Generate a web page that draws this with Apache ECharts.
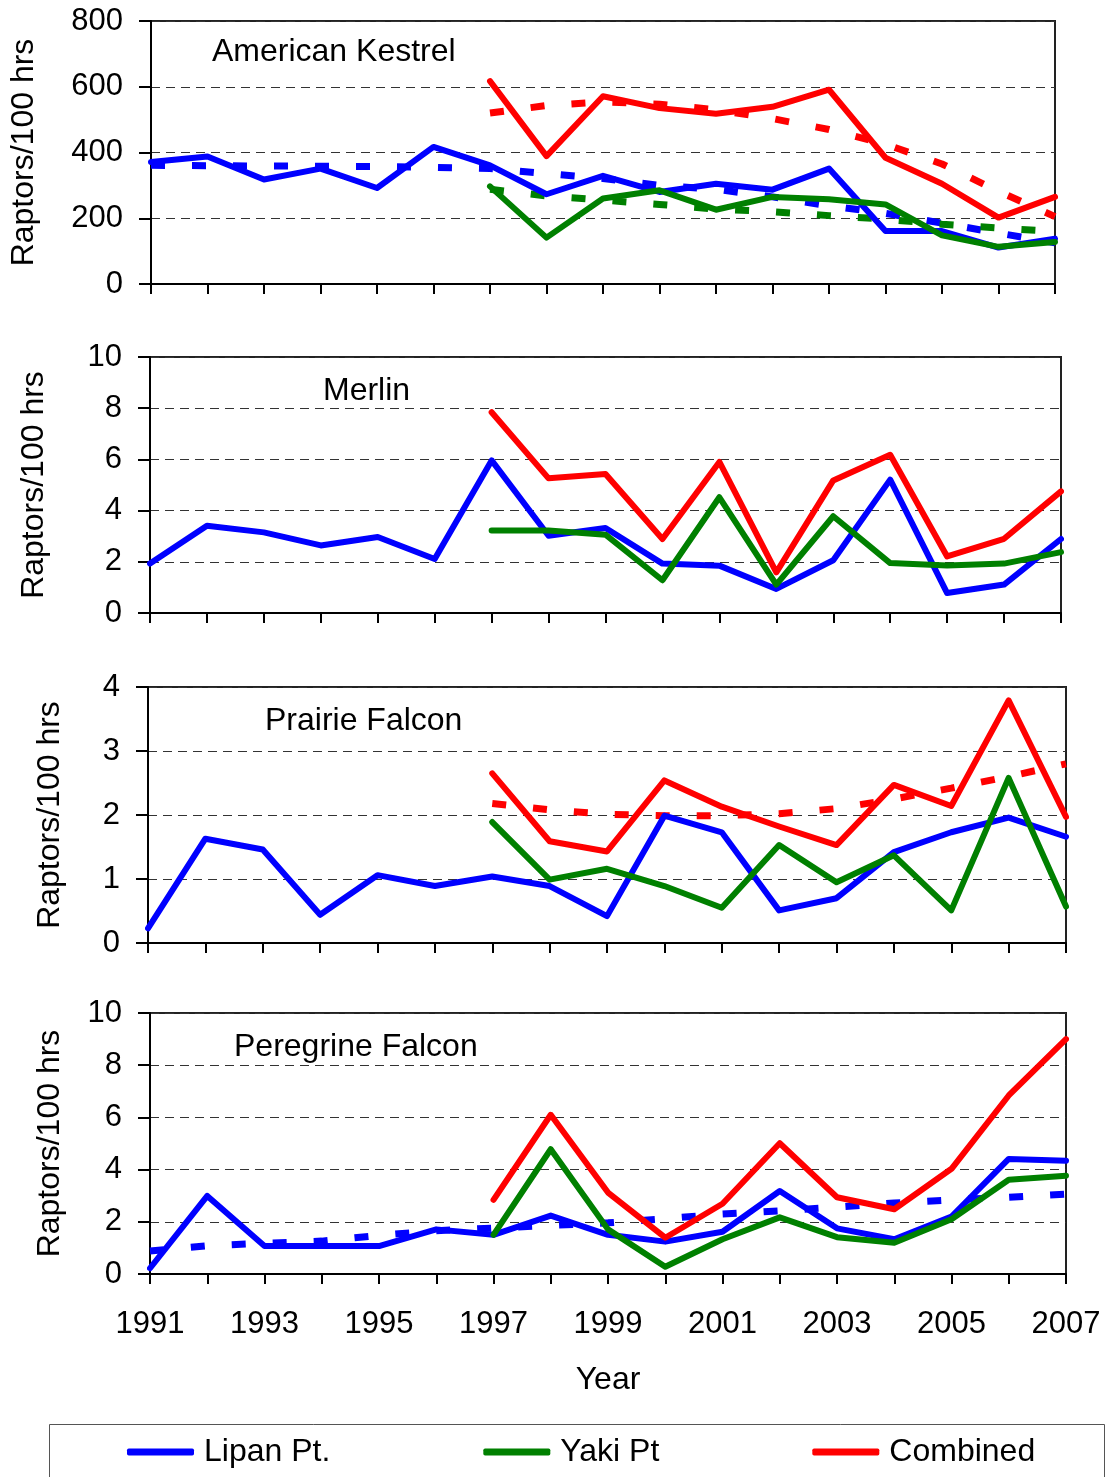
<!DOCTYPE html>
<html>
<head>
<meta charset="utf-8">
<script src="https://cdn.jsdelivr.net/npm/echarts@6/dist/echarts.min.js"></script>
<style>
html,body{margin:0;padding:0;background:#fff;}
#chart{width:1108px;height:1477px;}
</style>
</head>
<body>
<div id="chart"></div>
<script>
// ---------- DATA ----------
const years = ['1991','1992','1993','1994','1995','1996','1997','1998','1999','2000','2001','2002','2003','2004','2005','2006','2007'];
const panelTitles = ['American Kestrel','Merlin','Prairie Falcon','Peregrine Falcon'];
const legendNames = ['Lipan Pt.','Yaki Pt','Combined'];
const yAxisTitle = 'Raptors/100 hrs';
const xAxisTitle = 'Year';

// American Kestrel
const kestrelLipan    = [371,388,318,351,292,417,361,273,329,280,305,287,351,161,161,111,138];
const kestrelYaki     = [null,null,null,null,null,null,297,141,260,285,226,265,258,242,148,113,128];
const kestrelCombined = [null,null,null,null,null,null,617,389,571,535,518,539,591,384,305,202,265];
const kestrelLipanTrend    = [361,360,359,358,357,355,351,336,321,300,288,265,238,215,185,155,125];
const kestrelYakiTrend     = [null,null,null,null,null,null,288,268,255,242,228,220,208,197,182,170,160];
const kestrelCombinedTrend = [null,null,null,null,null,null,520,543,554,547,530,503,470,425,365,282,205];

// Merlin
const merlinLipan    = [1.93,3.41,3.15,2.64,2.97,2.11,5.96,3.02,3.32,1.93,1.85,0.94,2.06,5.21,0.78,1.11,2.89];
const merlinYaki     = [null,null,null,null,null,null,3.22,3.22,3.06,1.28,4.52,1.11,3.78,1.95,1.86,1.93,2.38];
const merlinCombined = [null,null,null,null,null,null,7.84,5.26,5.43,2.89,5.90,1.59,5.18,6.18,2.21,2.90,4.75];

// Prairie Falcon
const prairieLipan    = [0.23,1.63,1.46,0.44,1.06,0.89,1.04,0.89,0.42,1.99,1.73,0.51,0.70,1.42,1.73,1.96,1.66];
const prairieYaki     = [null,null,null,null,null,null,1.89,0.99,1.16,0.89,0.55,1.53,0.95,1.37,0.51,2.58,0.57];
const prairieCombined = [null,null,null,null,null,null,2.65,1.59,1.43,2.54,2.13,1.82,1.53,2.47,2.14,3.79,1.97];
const prairieCombinedTrend = [null,null,null,null,null,null,2.18,2.08,2.01,1.99,1.99,2.02,2.10,2.25,2.42,2.60,2.80];

// Peregrine Falcon
const peregrineLipan    = [0.22,2.99,1.07,1.07,1.07,1.71,1.50,2.24,1.50,1.24,1.62,3.18,1.75,1.33,2.20,4.41,4.34];
const peregrineYaki     = [null,null,null,null,null,null,1.50,4.78,1.71,0.28,1.33,2.17,1.41,1.20,2.10,3.61,3.76];
const peregrineCombined = [null,null,null,null,null,null,2.84,6.10,3.12,1.39,2.69,5.01,2.94,2.48,4.03,6.84,9.00];
const peregrineLipanTrend = [0.88,1.08,1.18,1.26,1.48,1.66,1.76,1.86,1.96,2.12,2.30,2.42,2.56,2.72,2.84,2.94,3.06];

const yMax = [800, 10, 4, 10];
const yStep = [200, 2, 1, 2];

// ---------- STYLE ----------
const FONT = '"Liberation Sans", Arial, sans-serif';
const BLUE = '#0000FF', GREEN = '#008000', RED = '#FF0000';
const grids = [
  {left:150, top:21,   width:905, height:263},
  {left:150, top:357,  width:911, height:256},
  {left:148, top:687,  width:918, height:256},
  {left:150, top:1013, width:916, height:261}
];
const nameGaps = [111, 100, 82, 84];
const titlePos = [[212,36],[323,375],[265,705],[234,1031]];

function solid(name, data, color, idx){
  return {type:'line', name:name, data:data, xAxisIndex:idx, yAxisIndex:idx,
    symbol:'none', connectNulls:false, z:3,
    lineStyle:{color:color, width:6, cap:'round', join:'round'},
    itemStyle:{color:color}};
}
function dashed(name, data, color, idx){
  return {type:'line', name:name, data:data, xAxisIndex:idx, yAxisIndex:idx,
    symbol:'none', z:2, silent:true,
    lineStyle:{color:color, width:7, type:[14,27], cap:'butt'},
    itemStyle:{color:color}};
}

const xAxes = grids.map((g,i)=>({
  type:'category', gridIndex:i, data:years, boundaryGap:false,
  axisLine:{show:true, lineStyle:{color:'#000', width:2}},
  axisTick:{show:true, inside:false, length:10, interval:0, lineStyle:{color:'#000', width:2}},
  axisLabel:{show:i===3, interval:1, margin:35, fontSize:31, color:'#000', fontFamily:FONT},
  splitLine:{show:false},
  name: i===3 ? xAxisTitle : '',
  nameLocation:'middle', nameGap:90,
  nameTextStyle:{fontSize:32, color:'#000', fontFamily:FONT}
}));

const yAxes = grids.map((g,i)=>({
  type:'value', gridIndex:i, min:0, max:yMax[i], interval:yStep[i],
  axisLine:{show:true, lineStyle:{color:'#000', width:2}},
  axisTick:{show:true, inside:false, length:12, lineStyle:{color:'#000', width:2}},
  axisLabel:{margin:28, fontSize:31, color:'#000', fontFamily:FONT},
  splitLine:{show:true, lineStyle:{color:'#333', width:1, type:[9,6]}},
  name:yAxisTitle, nameLocation:'middle', nameGap:nameGaps[i], nameRotate:90,
  nameTextStyle:{fontSize:32, color:'#000', fontFamily:FONT}
}));

const series = [
  dashed('kLT', kestrelLipanTrend, BLUE, 0),
  dashed('kYT', kestrelYakiTrend, GREEN, 0),
  dashed('kCT', kestrelCombinedTrend, RED, 0),
  solid(legendNames[0], kestrelLipan, BLUE, 0),
  solid(legendNames[1], kestrelYaki, GREEN, 0),
  solid(legendNames[2], kestrelCombined, RED, 0),

  solid(legendNames[0], merlinLipan, BLUE, 1),
  solid(legendNames[1], merlinYaki, GREEN, 1),
  solid(legendNames[2], merlinCombined, RED, 1),

  dashed('pCT', prairieCombinedTrend, RED, 2),
  solid(legendNames[0], prairieLipan, BLUE, 2),
  solid(legendNames[1], prairieYaki, GREEN, 2),
  solid(legendNames[2], prairieCombined, RED, 2),

  dashed('peLT', peregrineLipanTrend, BLUE, 3),
  solid(legendNames[0], peregrineLipan, BLUE, 3),
  solid(legendNames[1], peregrineYaki, GREEN, 3),
  solid(legendNames[2], peregrineCombined, RED, 3)
];

const option = {
  animation:false,
  backgroundColor:'#fff',
  textStyle:{fontFamily:FONT},
  title: panelTitles.map((t,i)=>({
    text:t, left:titlePos[i][0], top:titlePos[i][1], padding:0,
    textStyle:{fontSize:32, fontWeight:'normal', color:'#000', fontFamily:FONT}
  })),
  grid: grids.map(g=>Object.assign({show:true, borderColor:'#222', borderWidth:2, backgroundColor:'transparent'}, g)),
  xAxis:xAxes,
  yAxis:yAxes,
  graphic:[{
    type:'rect', silent:true, z:0,
    shape:{x:49.5, y:1424.5, width:1055, height:80},
    style:{fill:'none', stroke:'#555', lineWidth:1}
  }],
  legend:{
    data:legendNames,
    left:127, top:1436, width:1000,
    padding:0,
    orient:'horizontal',
    itemGap:153, itemWidth:67, itemHeight:7,
    icon:'roundRect',
    selectedMode:false,
    textStyle:{fontSize:32, color:'#000', fontFamily:FONT, padding:[0,0,0,5]}
  },
  series:series
};

const chart = echarts.init(document.getElementById('chart'), null, {renderer:'canvas'});
chart.setOption(option);
</script>
</body>
</html>
